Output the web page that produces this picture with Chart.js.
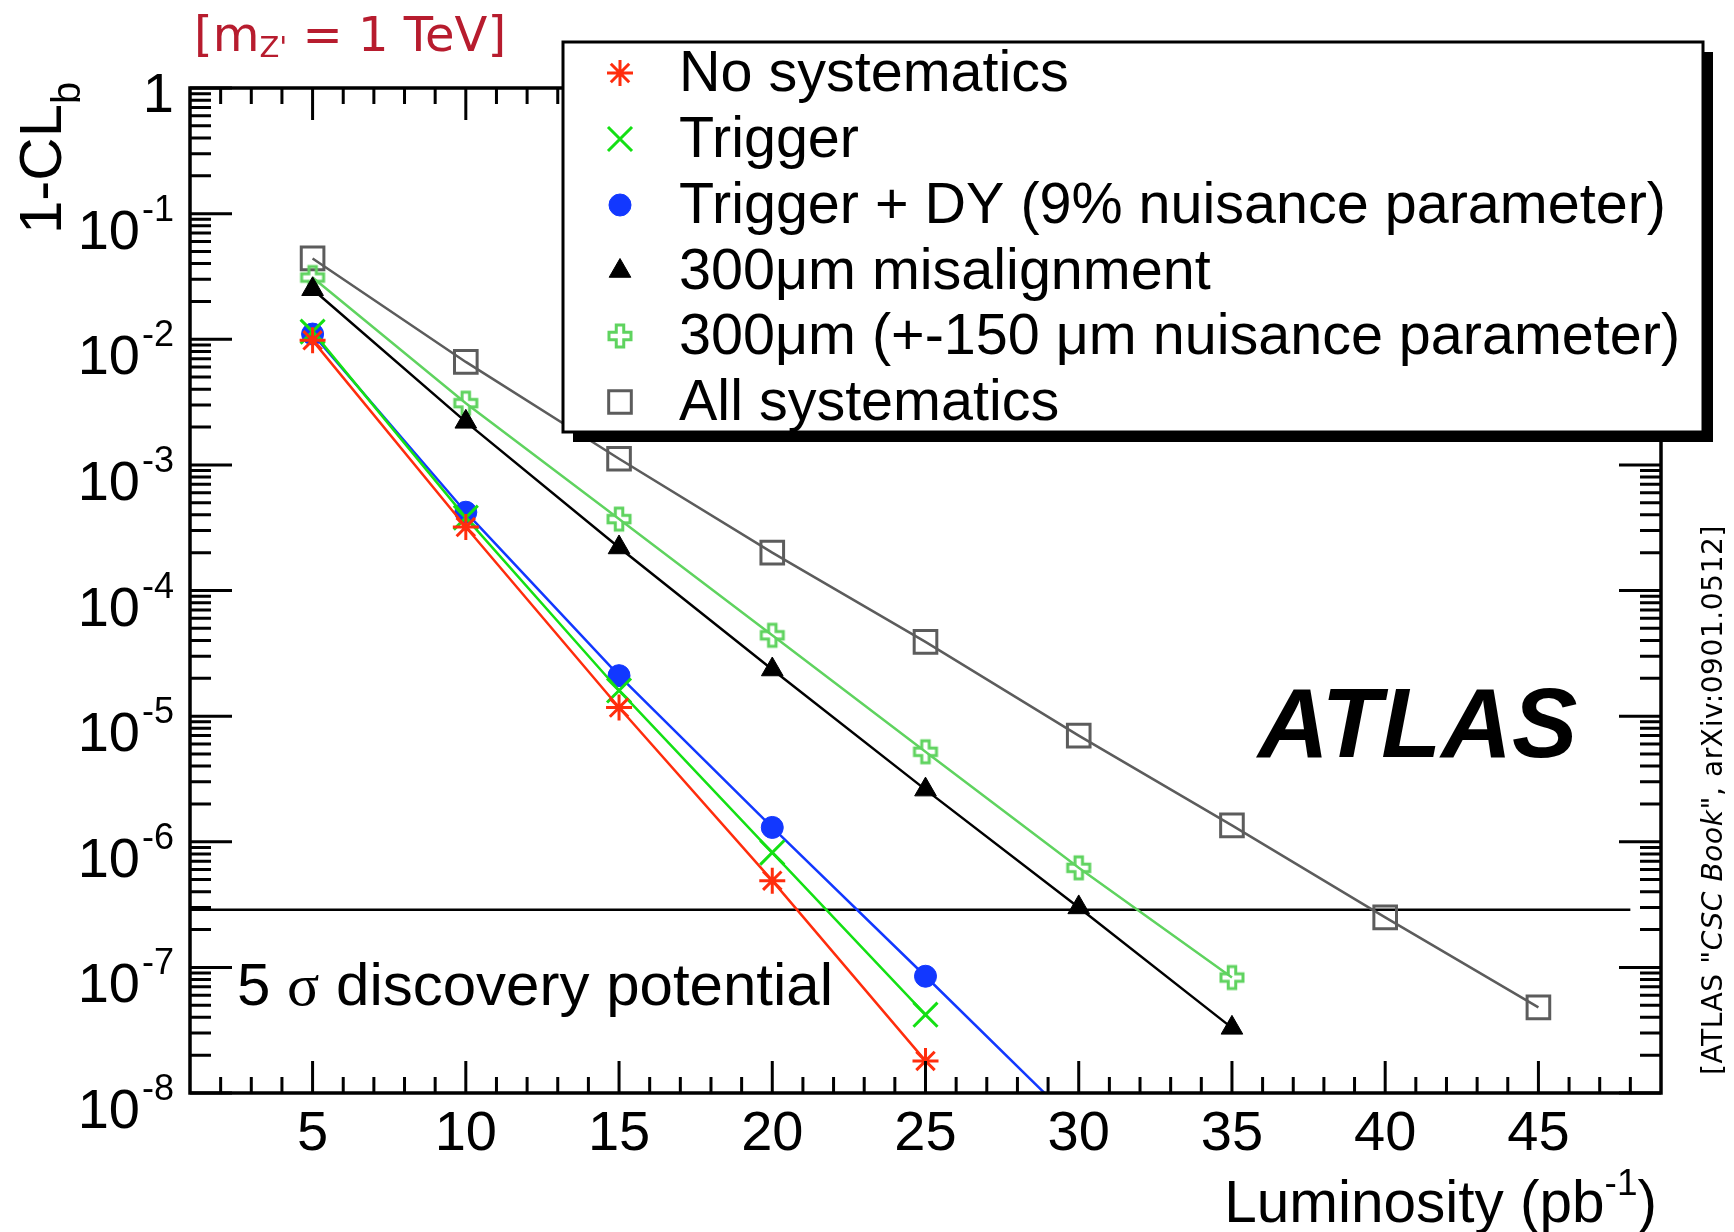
<!DOCTYPE html>
<html>
<head>
<meta charset="utf-8">
<script src="https://cdn.jsdelivr.net/npm/chart.js@4.4.1/dist/chart.umd.min.js"></script>
<style>
  html, body { margin: 0; padding: 0; background: #fff; }
  #wrap { width: 1734px; height: 1232px; }
</style>
</head>
<body>
<div id="wrap"><canvas id="chart" width="1734" height="1232"></canvas></div>
<script>
// luminosity points (pb^-1)
const lumi = [5, 10, 15, 20, 25, 30, 35, 40, 45];

// 1-CL_b values
const noSyst     = [9.8e-3, 3.2e-4, 1.17e-5, 4.9e-7, 1.8e-8];
const trigger    = [1.15e-2, 3.8e-4, 1.6e-5, 8.2e-7, 4.2e-8];
const triggerDY  = [1.1e-2, 4.2e-4, 2.1e-5, 1.3e-6, 8.5e-8, 5.4e-9];
const misalign   = [2.5e-2, 2.2e-3, 2.2e-4, 2.35e-5, 2.6e-6, 3.0e-7, 3.3e-8];
const misalignNP = [3.1e-2, 3.1e-3, 3.7e-4, 4.4e-5, 5.2e-6, 6.2e-7, 8.3e-8];
const allSyst    = [4.4e-2, 6.6e-3, 1.12e-3, 2.0e-4, 3.9e-5, 7.0e-6, 1.35e-6, 2.5e-7, 4.8e-8];

const seriesNames = [
  'No systematics',
  'Trigger',
  'Trigger + DY (9% nuisance parameter)',
  '300\u03bcm misalignment',
  '300\u03bcm (+-150 \u03bcm nuisance parameter)',
  'All systematics'
];

// 5 sigma discovery threshold
const fiveSigma = 2.87e-7;

// axis ticks
const xTickLabels = [5, 10, 15, 20, 25, 30, 35, 40, 45];
const yDecades = [0, -1, -2, -3, -4, -5, -6, -7, -8];

const FONT = '"Liberation Sans", Arial, Helvetica, sans-serif';
const HAND = '"DejaVu Sans", sans-serif';

// open cross marker (ROOT style 28) drawn on a small canvas
function openCross(size, color, lw) {
  const c = document.createElement('canvas');
  c.width = c.height = size + lw * 2;
  const g = c.getContext('2d');
  const m = lw, s = size, a = s * 0.33, b = s * 0.67;
  g.beginPath();
  g.moveTo(m + a, m); g.lineTo(m + b, m); g.lineTo(m + b, m + a);
  g.lineTo(m + s, m + a); g.lineTo(m + s, m + b); g.lineTo(m + b, m + b);
  g.lineTo(m + b, m + s); g.lineTo(m + a, m + s); g.lineTo(m + a, m + b);
  g.lineTo(m, m + b); g.lineTo(m, m + a); g.lineTo(m + a, m + a);
  g.closePath();
  g.strokeStyle = color;
  g.lineWidth = lw;
  g.stroke();
  return c;
}

const crossImg = openCross(22, '#5fd35f', 3);

function pts(values) {
  return values.map((v, i) => ({ x: lumi[i], y: v }));
}

const styles = [
  { color: '#ff2d0d', pointStyle: 'star',     radius: 13,   bw: 3, fill: 'rgba(0,0,0,0)' },
  { color: '#14e014', pointStyle: 'crossRot', radius: 17,   bw: 3, fill: 'rgba(0,0,0,0)' },
  { color: '#1238ff', pointStyle: 'circle',   radius: 11,   bw: 1, fill: '#1238ff' },
  { color: '#000000', pointStyle: 'triangle', radius: 12.5, bw: 1, fill: '#000000' },
  { color: '#5fd35f', pointStyle: crossImg,   radius: 12,   bw: 3, fill: 'rgba(0,0,0,0)' },
  { color: '#5c5c5c', pointStyle: 'rect',     radius: 16,   bw: 3, fill: 'rgba(0,0,0,0)' }
];

const seriesData = [noSyst, trigger, triggerDY, misalign, misalignNP, allSyst];

const datasets = seriesData.map((vals, i) => ({
  label: seriesNames[i],
  data: pts(vals),
  borderColor: styles[i].color,
  borderWidth: 2.5,
  pointStyle: styles[i].pointStyle,
  pointRadius: styles[i].radius,
  pointBorderWidth: styles[i].bw,
  pointBorderColor: styles[i].color,
  pointBackgroundColor: styles[i].fill,
  order: i
}));

datasets.push({
  label: '5 sigma',
  data: [{ x: 1, y: fiveSigma }, { x: 48, y: fiveSigma }],
  borderColor: '#000',
  borderWidth: 2.5,
  pointRadius: 0,
  order: 10
});

// draw a run of text pieces: [text, font, dy]
function runText(ctx, parts, x, y, align) {
  let total = 0;
  const widths = parts.map(p => {
    ctx.font = p[1];
    const w = ctx.measureText(p[0]).width;
    total += w;
    return w;
  });
  let cx = align === 'right' ? x - total : (align === 'center' ? x - total / 2 : x);
  ctx.textAlign = 'left';
  parts.forEach((p, i) => {
    ctx.font = p[1];
    ctx.fillText(p[0], cx, y + (p[2] || 0));
    cx += widths[i];
  });
}

const rootStyle = {
  id: 'rootStyle',
  afterDatasetsDraw(chart) {
    const { ctx, chartArea: a, scales: { x, y } } = chart;
    ctx.save();
    ctx.strokeStyle = '#000';
    ctx.fillStyle = '#000';
    ctx.textBaseline = 'alphabetic';

    // frame
    ctx.lineWidth = 3.5;
    ctx.strokeRect(a.left, a.top, a.right - a.left, a.bottom - a.top);

    // x ticks, bottom and top, pointing inward
    ctx.lineWidth = 3;
    ctx.beginPath();
    for (let v = 2; v <= 48; v++) {
      const px = x.getPixelForValue(v);
      const len = v % 5 === 0 ? 32 : 16;
      ctx.moveTo(px, a.bottom); ctx.lineTo(px, a.bottom - len);
      ctx.moveTo(px, a.top); ctx.lineTo(px, a.top + len);
    }
    // y ticks, left and right
    yDecades.forEach(d => {
      const py = y.getPixelForValue(Math.pow(10, d));
      ctx.moveTo(a.left, py); ctx.lineTo(a.left + 42, py);
      ctx.moveTo(a.right, py); ctx.lineTo(a.right - 42, py);
      if (d < 0) {
        for (let k = 2; k <= 9; k++) {
          const pm = y.getPixelForValue(k * Math.pow(10, d));
          ctx.moveTo(a.left, pm); ctx.lineTo(a.left + 21, pm);
          ctx.moveTo(a.right, pm); ctx.lineTo(a.right - 21, pm);
        }
      }
    });
    ctx.stroke();

    // x tick labels
    ctx.font = '56px ' + FONT;
    ctx.textAlign = 'center';
    xTickLabels.forEach(v => {
      ctx.fillText(String(v), x.getPixelForValue(v), a.bottom + 57);
    });

    // y tick labels
    yDecades.forEach(d => {
      const py = y.getPixelForValue(Math.pow(10, d));
      if (d === 0) {
        ctx.font = '56px ' + FONT;
        ctx.textAlign = 'right';
        ctx.fillText('1', 174, py + 24);
      } else {
        ctx.font = '36px ' + FONT;
        ctx.textAlign = 'right';
        const exp = String(d);
        ctx.fillText(exp, 174, py + 7);
        const ew = ctx.measureText(exp).width;
        ctx.font = '56px ' + FONT;
        ctx.fillText('10', 174 - ew - 2, py + 35);
      }
    });

    // y title, rotated
    ctx.save();
    ctx.translate(61, 234);
    ctx.rotate(-Math.PI / 2);
    runText(ctx, [['1-CL', '60px ' + FONT, 0], ['b', '40px ' + FONT, 19]], 0, 0, 'left');
    ctx.restore();

    // x title
    runText(ctx, [['Luminosity (pb', '58.5px ' + FONT, 0], ['-1', '37px ' + FONT, -27], [')', '58.5px ' + FONT, 0]], 1657, 1222, 'right');

    // 5 sigma text
    runText(ctx, [['5 ', '60px ' + FONT, 0], ['\u03c3', '60px "Liberation Serif", "DejaVu Serif", serif', 0],
                  [' discovery potential', '60px ' + FONT, 0]], 237, 1005, 'left');

    // ATLAS
    ctx.font = 'italic bold 98px ' + FONT;
    ctx.textAlign = 'left';
    ctx.fillText('ATLAS', 1258, 757);

    // mass label
    ctx.fillStyle = '#b71c2e';
    runText(ctx, [['[m', '48px ' + HAND, 0], ['Z\'', '29px ' + HAND, 6], [' = 1 TeV]', '48px ' + HAND, 0]], 194, 51, 'left');

    // reference text on the right
    ctx.fillStyle = '#000';
    ctx.save();
    ctx.translate(1722, 800);
    ctx.rotate(-Math.PI / 2);
    ctx.letterSpacing = '0.6px';
    runText(ctx, [['[ATLAS "', '28px ' + HAND, 0], ['CSC Book', 'italic 28px ' + HAND, 0],
                  ['", arXiv:0901.0512]', '28px ' + HAND, 0]], 0, 0, 'center');
    ctx.letterSpacing = '0px';
    ctx.restore();

    // legend box with shadow
    const L = { x: 563, y: 42, w: 1140, h: 390 };
    ctx.fillStyle = '#000';
    ctx.fillRect(L.x + 10, L.y + 10, L.w, L.h);
    ctx.fillStyle = '#fff';
    ctx.fillRect(L.x, L.y, L.w, L.h);
    ctx.lineWidth = 3;
    ctx.strokeStyle = '#000';
    ctx.strokeRect(L.x, L.y, L.w, L.h);

    const rowY = [71, 137, 203, 269, 334, 400];
    seriesNames.forEach((name, i) => {
      const st = styles[i];
      ctx.save();
      ctx.strokeStyle = st.color;
      ctx.fillStyle = st.fill;
      ctx.lineWidth = st.bw;
      Chart.helpers.drawPoint(ctx, { pointStyle: st.pointStyle, rotation: 0, radius: st.radius, borderWidth: st.bw }, 620, rowY[i] + 2);
      ctx.restore();
      ctx.fillStyle = '#000';
      ctx.font = '57.5px ' + FONT;
      ctx.textAlign = 'left';
      ctx.fillText(name, 679, rowY[i] + 20);
    });

    ctx.restore();
  }
};

new Chart(document.getElementById('chart').getContext('2d'), {
  type: 'line',
  data: { datasets: datasets },
  options: {
    responsive: false,
    animation: false,
    devicePixelRatio: 1,
    layout: { padding: { left: 190, right: 73, top: 88, bottom: 139 } },
    plugins: { legend: { display: false }, tooltip: { enabled: false } },
    elements: { line: { tension: 0, fill: false } },
    scales: {
      x: { type: 'linear', min: 1, max: 49, display: false },
      y: { type: 'logarithmic', min: 1e-8, max: 1, display: false }
    }
  },
  plugins: [rootStyle]
});
</script>
</body>
</html>
